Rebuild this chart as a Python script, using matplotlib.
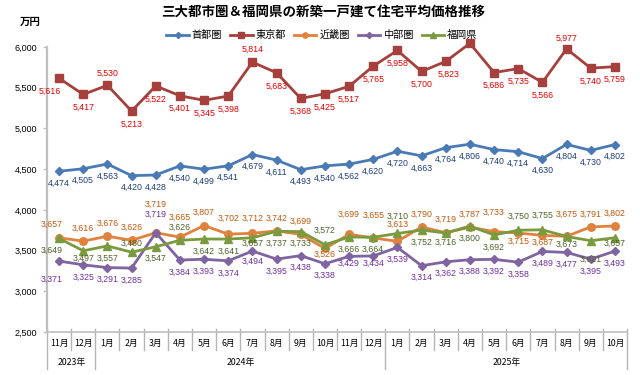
import matplotlib
matplotlib.use('Agg')
import matplotlib.pyplot as plt
from matplotlib.lines import Line2D
from matplotlib.ticker import FuncFormatter

plt.rcParams['font.family'] = ['Noto Sans CJK JP', 'DejaVu Sans']

# data (万円), 2023/11 - 2025/10
months = ['11月', '12月',
          '1月', '2月', '3月', '4月', '5月', '6月', '7月', '8月', '9月', '10月', '11月', '12月',
          '1月', '2月', '3月', '4月', '5月', '6月', '7月', '8月', '9月', '10月']
years = ['2023年', '2024年', '2025年']
year_spans = [(0, 2), (2, 14), (14, 24)]

shutoken = [4474, 4505, 4563, 4420, 4428, 4540, 4499, 4541, 4679, 4611, 4493, 4540,
            4562, 4620, 4720, 4663, 4764, 4806, 4740, 4714, 4630, 4804, 4730, 4802]
tokyo = [5616, 5417, 5530, 5213, 5522, 5401, 5345, 5398, 5814, 5683, 5368, 5425,
         5517, 5765, 5958, 5700, 5823, 6045, 5686, 5735, 5566, 5977, 5740, 5759]
kinki = [3657, 3616, 3676, 3626, 3719, 3665, 3807, 3702, 3712, 3742, 3699, 3526,
         3699, 3655, 3613, 3790, 3719, 3787, 3733, 3715, 3687, 3675, 3791, 3802]
chubu = [3371, 3325, 3291, 3285, 3719, 3384, 3393, 3374, 3494, 3395, 3438, 3338,
         3429, 3434, 3539, 3314, 3362, 3388, 3392, 3358, 3489, 3477, 3395, 3493]
fukuoka = [3649, 3497, 3557, 3480, 3547, 3626, 3642, 3641, 3657, 3737, 3733, 3572,
           3666, 3664, 3710, 3752, 3716, 3800, 3692, 3750, 3755, 3673, 3621, 3657]

# label offsets in pixels (dx, dy), dy > 0 means below the point
shutoken_lbl = {}
tokyo_lbl = {0: (-9, 13), 2: (0, -12), 8: (0, -13), 16: (3, 13), 17: (19, 0), 21: (0, -11)}
kinki_lbl = {0: (-7, -13), 4: (0, -28), 5: (0, -20), 7: (0, -16), 8: (0, -15), 11: (0, 6),
             12: (0, -20), 13: (0, -23), 14: (0, -17), 18: (0, -19), 19: (0, 8), 20: (0, 7),
             21: (0, -22)}
chubu_lbl = {0: (-7, 18), 4: (0, -18), 8: (0, 10), 12: (0, 7), 13: (0, 7)}
fukuoka_lbl = {0: (-7, 12), 1: (0, 7), 3: (0, -9), 5: (0, -13), 8: (0, 6), 11: (0, -14),
               14: (0, -17), 16: (0, 9), 19: (0, -14), 20: (0, -14), 21: (0, 8), 22: (0, 19),
               23: (0, 6)}

series = [
    ('首都圏', shutoken, '#4A7AB5', 'D', 4.4, '#1F3D7A', 12, shutoken_lbl),
    ('東京都', tokyo, '#A5403D', 's', 6.2, '#E00000', 13, tokyo_lbl),
    ('近畿圏', kinki, '#E0823D', 'o', 5.4, '#C0590C', -13, kinki_lbl),
    ('中部圏', chubu, '#8064A2', 'D', 4.4, '#7030A0', 12, chubu_lbl),
    ('福岡県', fukuoka, '#7A9A3F', '^', 5.8, '#4F6228', 12, fukuoka_lbl),
]

fig = plt.figure(figsize=(6.4, 3.75), dpi=100)
ax = fig.add_axes([47 / 640, 1 - 332 / 375, 580 / 640, 285 / 375])

x = list(range(len(months)))
for k, (name, vals, color, marker, ms, lcolor, dy0, over) in enumerate(series):
    ax.plot(x, vals, color=color, lw=2, marker=marker, ms=ms, label=name,
            clip_on=False, zorder=2 + k * 0.1)
    for i, v in enumerate(vals):
        dx, dy = over.get(i, (0, dy0))
        ax.annotate(f'{v:,}', (i, v), xytext=(dx, -dy), textcoords='offset pixels',
                    ha='center', va='center', fontsize=6.3, color=lcolor,
                    family='Liberation Sans', zorder=5)

ax.set_xlim(-0.5, len(months) - 0.5)
ax.set_ylim(2500, 6000)
ax.set_yticks(range(2500, 6001, 500))
ax.yaxis.set_major_formatter(FuncFormatter(lambda v, p: f'{int(v):,}'))
for lab in ax.get_yticklabels():
    lab.set_family('Liberation Sans')
ax.tick_params(axis='y', labelsize=6.5, length=3, color='#BFBFBF', width=1, pad=4)
ax.set_xticks([])
for s in ['top', 'right']:
    ax.spines[s].set_visible(False)
ax.spines['left'].set_color('#BFBFBF')
ax.spines['left'].set_linewidth(1.6)
ax.spines['bottom'].set_color('#BFBFBF')
ax.spines['bottom'].set_linewidth(1.2)

# two-level category axis
trans = ax.get_xaxis_transform()
h = 285.0
year_edges = set()
for a, b in year_spans:
    year_edges.add(a)
    year_edges.add(b)
for i in range(len(months) + 1):
    bottom = -37 / h if i in year_edges else -18 / h
    ax.add_line(Line2D([i - 0.5, i - 0.5], [3 / h, bottom], transform=trans,
                       color='#B5B5B5', lw=1, clip_on=False))
for i, m in enumerate(months):
    ax.text(i, -11 / h, m, transform=trans, ha='center', va='center', fontsize=6.3)
for yl, (a, b) in zip(years, year_spans):
    ax.text((a + b - 1) / 2, -31 / h, yl, transform=trans, ha='center', va='center', fontsize=6.3)

fig.text(0.505, 1 - 13 / 375, '三大都市圏＆福岡県の新築一戸建て住宅平均価格推移',
         ha='center', va='center', fontsize=9.7, fontweight='bold')
fig.text(30 / 640, 1 - 22 / 375, '万円', ha='center', va='center', fontsize=7.5, fontweight='bold')
fig.legend(loc='center', bbox_to_anchor=(322 / 640, 1 - 35 / 375), ncol=5, frameon=False,
           fontsize=7.3, handlelength=2.2, handletextpad=0.3, columnspacing=0.8,
           markerscale=0.7)

fig.savefig('out.png', dpi=100)
